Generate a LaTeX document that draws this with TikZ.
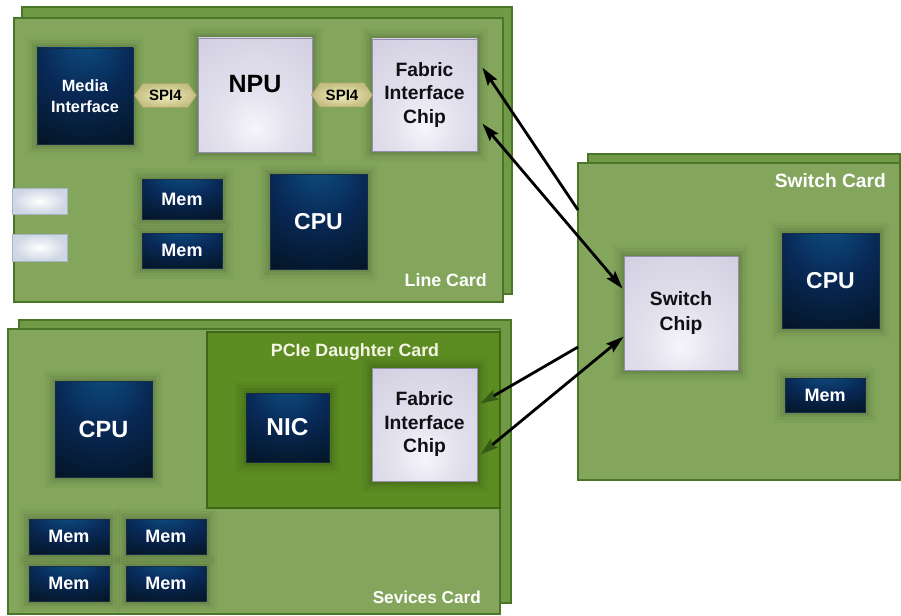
\documentclass[tikz,border=0pt]{standalone}
\usepackage{fontspec}
\setmainfont{Liberation Sans}
\usetikzlibrary{shapes.symbols,arrows.meta,calc}
\definecolor{cardface}{RGB}{131,166,92}
\definecolor{cardedge}{RGB}{74,118,40}
\definecolor{cardback}{RGB}{112,154,70}
\definecolor{dcard}{RGB}{92,140,34}
\definecolor{dcardedge}{RGB}{60,104,20}
\definecolor{chipglow}{RGB}{30,130,150}
\definecolor{chipmid}{RGB}{12,70,120}
\definecolor{chipnavy}{RGB}{8,40,85}
\definecolor{chipdark}{RGB}{3,16,24}
\definecolor{lavc}{RGB}{246,245,250}
\definecolor{lavl}{RGB}{228,226,238}
\definecolor{lavm}{RGB}{208,204,224}
\definecolor{lavedge}{RGB}{150,142,172}
\definecolor{spiin}{RGB}{242,238,190}
\definecolor{spiout}{RGB}{196,190,130}
\definecolor{tabc}{RGB}{206,214,228}
\definecolor{arrgreen}{RGB}{52,92,22}
\pgfdeclareradialshading{darkchip}{\pgfpoint{0bp}{32bp}}{color(0bp)=(chipglow); color(6bp)=(chipmid); color(24bp)=(chipnavy); color(55bp)=(chipdark); color(100bp)=(chipdark)}
\pgfdeclareradialshading{lightchip}{\pgfpoint{0bp}{-15bp}}{color(0bp)=(lavc); color(15bp)=(lavl); color(45bp)=(lavm); color(100bp)=(lavm)}
\newcommand{\fsz}[2]{\fontsize{#1}{#2}\selectfont\bfseries}
\begin{document}
\begin{tikzpicture}[x=1pt,y=-1pt,
  card/.style={fill=cardface,draw=cardedge,line width=1.6pt},
  backcard/.style={fill=cardback,draw=cardedge,line width=1.6pt},
  dcardst/.style={fill=dcard,draw=dcardedge,line width=1.6pt},
  glow/.style={preaction={draw=black,draw opacity=0.025,line width=22pt},
               preaction={draw=black,draw opacity=0.035,line width=16pt},
               preaction={draw=black,draw opacity=0.05,line width=10pt},
               preaction={draw=black,draw opacity=0.07,line width=5pt}},
  dark/.style={glow,shading=darkchip,draw={rgb,255:red,20;green,45;blue,70},line width=0.6pt,
               text=white,inner sep=0pt,align=center},
  light/.style={glow,shading=lightchip,draw=lavedge,line width=0.8pt,
               text={rgb,255:red,15;green,15;blue,20},inner sep=0pt,align=center},
  tab/.style={inner color=white,outer color=tabc,draw={rgb,255:red,170;green,180;blue,200},
              line width=0.6pt,minimum width=55pt,inner sep=0pt},
  spi/.style={signal,signal to=east and west,signal pointer angle=110,
              inner color=spiin,outer color=spiout,draw={rgb,255:red,170;green,162;blue,100},
              line width=0.5pt,minimum height=24pt,inner sep=0pt,text=black,font=\fsz{15}{17}},
  cardlbl/.style={text=white,inner sep=0pt},
  arr/.style={line width=2.8pt,black,line cap=butt}
]
\useasboundingbox (0,0) rectangle (901,615);

% ---------------- Line card ----------------
\draw[backcard] (22,7) rectangle (512,294);
\draw[card] (14,18) rectangle (503,302);
\node[dark,minimum width=96pt,minimum height=96pt,font=\fsz{16.3}{21}] (media) at (85,96) {Media\\Interface};
\node[light,minimum width=114pt,minimum height=114pt] (npu) at (255,95) {};
\node[inner sep=0pt,font=\fsz{25}{28}] (npulbl) at ($(npu.center)+(0,-11)$) {NPU};
\node[light,minimum width=105pt,minimum height=112pt,font=\fsz{19.3}{23.5}] (fabL) at (424.5,95) {Fabric\\Interface\\Chip};
\node[spi,minimum width=62pt] (spiA) at ($(media.east)!0.5!(npu.west)$) {SPI4};
\node[spi,minimum width=61pt] (spiB) at ($(npu.east)!0.5!(fabL.west)$) {SPI4};
\node[tab,minimum height=26pt] (tab1) at (39.5,201) {};
\node[tab,minimum height=27pt] (tab2) at (39.5,247.5) {};
\node[dark,minimum width=80pt,minimum height=40pt,font=\fsz{18}{20}] (memL1) at (182,199) {Mem};
\node[dark,minimum width=80pt,minimum height=35pt,font=\fsz{18}{20}] (memL2) at (182,250.5) {Mem};
\node[dark,minimum width=97pt,minimum height=95pt,font=\fsz{23}{26}] (cpuL) at (318.5,222) {CPU};
\node[cardlbl,anchor=east,font=\fsz{17.8}{20}] (lclbl) at (487,280) {Line Card};

% ---------------- Services card ----------------
\draw[backcard] (19,320) rectangle (511,603);
\draw[card] (8,329) rectangle (500,614);
\draw[dcardst] (207,332) rectangle (500,508);
\node[cardlbl,font=\fsz{17.8}{20},text={rgb,255:red,245;green,245;blue,230}] (pcielbl) at (355,352) {PCIe Daughter Card};
\node[dark,minimum width=97pt,minimum height=96pt,font=\fsz{23.5}{26}] (cpuS) at (103.5,429) {CPU};
\node[dark,minimum width=80pt,minimum height=35pt,font=\fsz{18}{20}] (memS1) at (69,536.5) {Mem};
\node[dark,minimum width=80pt,minimum height=35pt,font=\fsz{18}{20}] (memS2) at (166,536.5) {Mem};
\node[dark,minimum width=80pt,minimum height=35pt,font=\fsz{18}{20}] (memS3) at (69,583.5) {Mem};
\node[dark,minimum width=80pt,minimum height=35pt,font=\fsz{18}{20}] (memS4) at (166,583.5) {Mem};
\node[dark,minimum width=83pt,minimum height=69pt,font=\fsz{24.4}{27}] (nic) at (287.5,427.5) {NIC};
\node[cardlbl,anchor=east,font=\fsz{17.2}{20}] (svlbl) at (481,597) {Sevices Card};

\coordinate (sw3) at (578,347);
\node[light,minimum width=105pt,minimum height=113pt,font=\fsz{19.3}{23.5}] (fabS) at (424.5,424.5) {Fabric\\Interface\\Chip};

% ---------------- Switch card ----------------
\draw[backcard] (588,154) rectangle (900,478);
\draw[card] (578,163) rectangle (900,480);
\node[cardlbl,anchor=east,font=\fsz{19.2}{22}] (swlbl) at (886,181) {Switch Card};
\node[light,minimum width=114pt,minimum height=114pt,font=\fsz{19.3}{25}] (swchip) at (681,313) {Switch\\Chip};
\node[dark,minimum width=97pt,minimum height=95pt,font=\fsz{23}{26}] (cpuW) at (830.5,280.5) {CPU};
\node[dark,minimum width=80pt,minimum height=34pt,font=\fsz{18}{20}] (memW) at (825,395) {Mem};

% ---------------- Connectors ----------------
\coordinate (sw1) at (578,210);
\draw[arr,-{Stealth[length=18pt,width=11pt,inset=3pt]}] (sw1) -- ($(fabL.north east)+(5,29)$);
\draw[arr,{Stealth[length=18pt,width=11pt,inset=3pt]}-{Stealth[length=18pt,width=11pt,inset=3pt]}] ($(fabL.north east)+(5,85)$) -- ($(swchip.north west)+(-1,33)$);
\draw[arr,-{Stealth[length=18pt,width=11pt,inset=3pt,color=arrgreen]}] (sw3) -- ($(fabS.north east)+(3,36)$);
\draw[arr,{Stealth[length=18pt,width=11pt,inset=3pt,color=arrgreen]}-{Stealth[length=18pt,width=11pt,inset=3pt]}] ($(fabS.north east)+(3,87)$) -- ($(swchip.north west)+(0,81)$);
\end{tikzpicture}
\end{document}
